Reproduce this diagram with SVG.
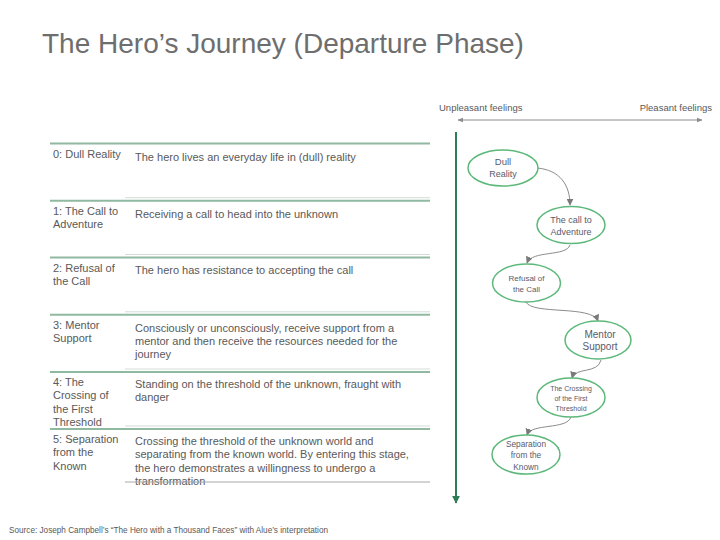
<svg xmlns="http://www.w3.org/2000/svg" width="720" height="540" viewBox="0 0 720 540">
<style>
text{font-family:"Liberation Sans",Arial,sans-serif;fill:#595959}
.title{font-size:28px;fill:#6e6e6e}
.lbl{font-size:11px}
.desc{font-size:11px}
.hdr{font-size:9.5px}
.src{font-size:8.2px}
.thick{stroke:#8fb9a0;stroke-width:2}
.thin{stroke:#d3ddd6;stroke-width:1}
.node ellipse{fill:#ffffff;stroke:#5cb87a;stroke-width:1.5}
.node text{text-anchor:middle;fill:#5a5a6a}
.conn path{fill:none;stroke:#8c8c8c;stroke-width:1}
</style>
<defs>
<marker id="ah" viewBox="0 0 10 10" refX="9" refY="5" markerWidth="7" markerHeight="7" orient="auto-start-reverse" markerUnits="userSpaceOnUse"><path d="M0,0 L10,5 L0,10 z" fill="#7a7a7a"/></marker>
<marker id="ahg" viewBox="0 0 10 10" refX="9" refY="5" markerWidth="8" markerHeight="8" orient="auto" markerUnits="userSpaceOnUse"><path d="M0,0 L10,5 L0,10 z" fill="#2e7d57"/></marker>
<marker id="ahs" viewBox="0 0 10 10" refX="9" refY="5" markerWidth="6" markerHeight="6" orient="auto-start-reverse" markerUnits="userSpaceOnUse"><path d="M0,1 L10,5 L0,9 z" fill="#8c8c8c"/></marker>
</defs>
<rect width="720" height="540" fill="#ffffff"/>
<text class="title" x="42" y="53">The Hero’s Journey (Departure Phase)</text>

<g id="table">
<line class="thick" x1="50" y1="143.5" x2="430" y2="143.5"/>
<line class="thin" x1="125" y1="197.7" x2="430" y2="197.7"/>
<line class="thick" x1="50" y1="200.7" x2="430" y2="200.7"/>
<line class="thin" x1="125" y1="254.5" x2="430" y2="254.5"/>
<line class="thick" x1="50" y1="257.5" x2="430" y2="257.5"/>
<line class="thin" x1="125" y1="311.8" x2="430" y2="311.8"/>
<line class="thick" x1="50" y1="314.8" x2="430" y2="314.8"/>
<line class="thin" x1="125" y1="369" x2="430" y2="369"/>
<line class="thick" x1="50" y1="372" x2="430" y2="372"/>
<line class="thin" x1="125" y1="426" x2="430" y2="426"/>
<line class="thick" x1="50" y1="429" x2="430" y2="429"/>
</g>

<g id="row0">
<text class="lbl" x="53" y="158">0: Dull Reality</text>
<text class="desc" x="135" y="160.5">The hero lives an everyday life in (dull) reality</text>
</g>
<g id="row1">
<text class="lbl" x="53" y="215">1: The Call to<tspan x="53" dy="13.3">Adventure</tspan></text>
<text class="desc" x="135" y="217.5">Receiving a call to head into the unknown</text>
</g>
<g id="row2">
<text class="lbl" x="53" y="271.5">2: Refusal of<tspan x="53" dy="13.3">the Call</tspan></text>
<text class="desc" x="135" y="274">The hero has resistance to accepting the call</text>
</g>
<g id="row3">
<text class="lbl" x="53" y="329">3: Mentor<tspan x="53" dy="13.3">Support</tspan></text>
<text class="desc" x="135" y="331.5">Consciously or unconsciously, receive support from a<tspan x="135" dy="13.3">mentor and then receive the resources needed for the</tspan><tspan x="135" dy="13.3">journey</tspan></text>
</g>
<g id="row4">
<text class="lbl" x="53" y="386">4: The<tspan x="53" dy="13.3">Crossing of</tspan><tspan x="53" dy="13.3">the First</tspan><tspan x="53" dy="13.3">Threshold</tspan></text>
<text class="desc" x="135" y="388">Standing on the threshold of the unknown, fraught with<tspan x="135" dy="13.3">danger</tspan></text>
</g>
<g id="row5">
<text class="lbl" x="53" y="443">5: Separation<tspan x="53" dy="13.3">from the</tspan><tspan x="53" dy="13.3">Known</tspan></text>
<text class="desc" x="135" y="445">Crossing the threshold of the unknown world and<tspan x="135" dy="13.3">separating from the known world. By entering this stage,</tspan><tspan x="135" dy="13.3">the hero demonstrates a willingness to undergo a</tspan><tspan x="135" dy="13.3">transformation</tspan></text>
<line x1="125" y1="482" x2="430" y2="482" stroke="#a8a8a8" stroke-width="1"/>
</g>

<g id="axes">
<text class="hdr" x="439" y="111">Unpleasant feelings</text>
<text class="hdr" x="712" y="111" text-anchor="end">Pleasant feelings</text>
<line x1="458" y1="120" x2="702" y2="120" stroke="#8c8c8c" stroke-width="1" marker-start="url(#ahs)" marker-end="url(#ahs)"/>
<line x1="456" y1="132" x2="456" y2="503" stroke="#2e7d57" stroke-width="2" marker-end="url(#ahg)"/>
</g>

<g id="connectors" class="conn">
<path d="M537,168 C560,170 570,185 570,205" marker-end="url(#ah)"/>
<path d="M570,245 C566,257 532,250 527,263" marker-end="url(#ah)"/>
<path d="M526,302 C532,315 592,305 598,321" marker-end="url(#ah)"/>
<path d="M601,360 C598,374 575,367 572,378" marker-end="url(#ah)"/>
<path d="M571,417 C567,430 531,423 527,435" marker-end="url(#ah)"/>
</g>

<g id="n0" class="node"><ellipse cx="503" cy="168" rx="35" ry="18"/><text font-size="9.5" x="503" y="165">Dull</text><text font-size="9" x="503" y="176.5">Reality</text></g>
<g id="n1" class="node"><ellipse cx="571" cy="225" rx="34" ry="18.5"/><text font-size="9" x="571" y="223">The call to</text><text font-size="9" x="571" y="234.5">Adventure</text></g>
<g id="n2" class="node"><ellipse cx="526.5" cy="283" rx="34" ry="19"/><text font-size="8" x="526.5" y="281">Refusal of</text><text font-size="8" x="526.5" y="292">the Call</text></g>
<g id="n3" class="node"><ellipse cx="598" cy="340" rx="33" ry="19"/><text font-size="10" x="600" y="337.5">Mentor</text><text font-size="10" x="600" y="349.5">Support</text></g>
<g id="n4" class="node"><ellipse cx="571" cy="397.5" rx="34" ry="19.5"/><text font-size="7" x="571" y="390.5">The Crossing</text><text font-size="7" x="571" y="400.5">of the First</text><text font-size="7" x="571" y="410.5">Threshold</text></g>
<g id="n5" class="node"><ellipse cx="526" cy="454.5" rx="34" ry="19.5"/><text font-size="8.3" x="526" y="447">Separation</text><text font-size="8.3" x="526" y="458">from the</text><text font-size="8.3" x="526" y="469.5">Known</text></g>

<text class="src" x="9" y="533">Source: Joseph Campbell’s “The Hero with a Thousand Faces” with Alue’s interpretation</text>
</svg>
